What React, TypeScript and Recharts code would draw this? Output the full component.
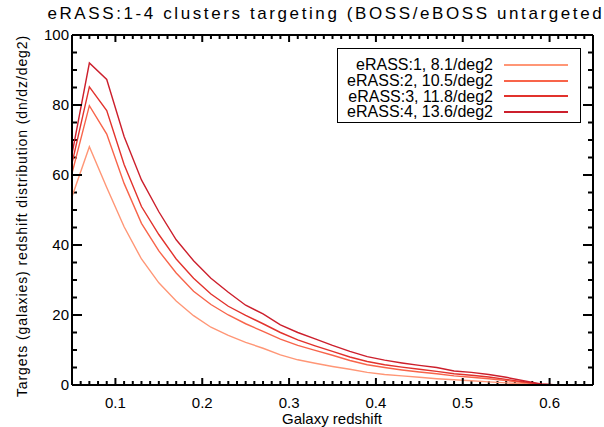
import React from 'react';
import { LineChart, Line, XAxis, YAxis, ReferenceLine } from 'recharts';

// galaxy redshift bins
const REDSHIFT = [
  0.05, 0.07, 0.09, 0.11, 0.13, 0.15, 0.17, 0.19, 0.21, 0.23, 0.25, 0.27, 0.29, 0.31, 0.33, 0.35,
  0.37, 0.39, 0.41, 0.43, 0.45, 0.47, 0.49, 0.51, 0.53, 0.55, 0.57, 0.59, 0.61, 0.63, 0.65,
];

// dn/dz/deg2 for each eRASS depth
const ERASS1 = [
  53.8, 68.1, 56.4, 45.2, 36.0, 29.2, 24.0, 19.8, 16.5, 14.2, 12.2, 10.5, 8.6, 7.2, 6.2, 5.3,
  4.5, 3.6, 3.0, 2.6, 2.2, 1.8, 1.5, 1.2, 0.9, 0.6, 0.35, 0.1, 0, 0, 0,
];
const ERASS2 = [
  60.5, 79.8, 71.7, 57.6, 46.2, 38.3, 32.0, 26.8, 23.0, 20.0, 17.5, 15.3, 13.1, 11.3, 9.9, 8.5,
  7.0, 5.8, 5.0, 4.3, 3.7, 3.2, 2.6, 2.2, 1.8, 1.3, 0.7, 0.15, 0, 0, 0,
];
const ERASS3 = [
  63.3, 85.2, 78.4, 63.0, 51.0, 43.0, 36.0, 30.5, 26.0, 22.5, 19.9, 17.5, 15.0, 12.9, 11.2, 9.6,
  8.0, 6.7, 5.8, 5.1, 4.5, 3.9, 3.2, 2.8, 2.3, 1.6, 0.9, 0.2, 0, 0, 0,
];
const ERASS4 = [
  66.0, 92.0, 87.3, 71.0, 58.6, 49.5, 41.5, 35.5, 30.5, 26.5, 22.8, 20.3, 17.2, 15.0, 13.2, 11.3,
  9.6, 8.1, 7.1, 6.3, 5.6, 5.0, 4.0, 3.6, 3.0, 2.2, 1.2, 0.3, 0, 0, 0,
];

const SERIES_NAMES = ['eRASS:1, 8.1/deg2', 'eRASS:2, 10.5/deg2', 'eRASS:3, 11.8/deg2', 'eRASS:4, 13.6/deg2'];
const SERIES_KEYS = ['e1', 'e2', 'e3', 'e4'];
const SERIES_COLORS = ['#ff9676', '#f8644a', '#e2322c', '#cc1f2c'];

const X_MINOR = [
  0.06, 0.07, 0.08, 0.09, 0.11, 0.12, 0.13, 0.14, 0.15, 0.16, 0.17, 0.18, 0.19,
  0.21, 0.22, 0.23, 0.24, 0.25, 0.26, 0.27, 0.28, 0.29, 0.31, 0.32, 0.33, 0.34, 0.35, 0.36,
  0.37, 0.38, 0.39, 0.41, 0.42, 0.43, 0.44, 0.45, 0.46, 0.47, 0.48, 0.49, 0.51, 0.52,
  0.53, 0.54, 0.55, 0.56, 0.57, 0.58, 0.59, 0.61, 0.62, 0.63, 0.64,
];
const X_MAJOR = [0.1, 0.2, 0.3, 0.4, 0.5, 0.6];
const Y_MINOR = [5, 10, 15, 25, 30, 35, 45, 50, 55, 65, 70, 75, 85, 90, 95];
const Y_MAJOR = [0, 20, 40, 60, 80, 100];
const X_DOMAIN = [0.05, 0.65];
const Y_DOMAIN = [0, 100];

const data = REDSHIFT.map((z, i) => ({
  z,
  e1: ERASS1[i],
  e2: ERASS2[i],
  e3: ERASS3[i],
  e4: ERASS4[i],
}));

const W = 604;
const H = 427;
const FONT = '"Liberation Sans", Arial, Helvetica, sans-serif';
const AXIS_LINE = { stroke: '#000', strokeWidth: 2 };
const TICK_TEXT = { fontSize: 15, fontFamily: FONT, fill: '#000' };

// plot box is 521 x 350 px; tick lengths in data units
const PX_X = (X_DOMAIN[1] - X_DOMAIN[0]) / 521;
const PX_Y = (Y_DOMAIN[1] - Y_DOMAIN[0]) / 350;

// inward tick marks that the axes don't draw (minor ticks and the mirrored top/right side)
const tickSegments: { x1: number; y1: number; x2: number; y2: number }[] = [];
X_MINOR.forEach((x) => {
  tickSegments.push({ x1: x, y1: Y_DOMAIN[0], x2: x, y2: Y_DOMAIN[0] + 4 * PX_Y });
  tickSegments.push({ x1: x, y1: Y_DOMAIN[1], x2: x, y2: Y_DOMAIN[1] - 4 * PX_Y });
});
X_MAJOR.forEach((x) => {
  tickSegments.push({ x1: x, y1: Y_DOMAIN[1], x2: x, y2: Y_DOMAIN[1] - 7 * PX_Y });
});
Y_MINOR.forEach((y) => {
  tickSegments.push({ x1: X_DOMAIN[0], y1: y, x2: X_DOMAIN[0] + 5 * PX_X, y2: y });
  tickSegments.push({ x1: X_DOMAIN[1], y1: y, x2: X_DOMAIN[1] - 5 * PX_X, y2: y });
});
Y_MAJOR.forEach((y) => {
  tickSegments.push({ x1: X_DOMAIN[1], y1: y, x2: X_DOMAIN[1] - 10 * PX_X, y2: y });
});

export default function App() {
  return (
    <div style={{ position: 'absolute', left: 0, top: 0, width: W, height: H, background: '#fff' }}>
      <LineChart width={W} height={H} data={data} margin={{ top: 35, right: 11, bottom: 0, left: 0 }}>
        <XAxis
          dataKey="z"
          type="number"
          domain={X_DOMAIN}
          ticks={X_MAJOR}
          interval={0}
          tickSize={-7}
          tickMargin={19}
          tickLine={AXIS_LINE}
          axisLine={AXIS_LINE}
          tick={TICK_TEXT}
          tickFormatter={(v: number) => v.toFixed(1)}
          height={42}
          allowDataOverflow
        />
        <YAxis
          type="number"
          domain={Y_DOMAIN}
          ticks={Y_MAJOR}
          interval={0}
          tickSize={-10}
          tickMargin={13}
          tickLine={AXIS_LINE}
          axisLine={AXIS_LINE}
          tick={TICK_TEXT}
          width={72}
          allowDataOverflow
        />
        <ReferenceLine y={Y_DOMAIN[1]} stroke="#000" strokeWidth={2} />
        <ReferenceLine x={X_DOMAIN[1]} stroke="#000" strokeWidth={2} />
        {tickSegments.map((s, i) => (
          <ReferenceLine
            key={i}
            segment={[
              { x: s.x1, y: s.y1 },
              { x: s.x2, y: s.y2 },
            ]}
            stroke="#000"
            strokeWidth={2}
          />
        ))}
        {SERIES_KEYS.map((k, i) => (
          <Line
            key={k}
            dataKey={k}
            name={SERIES_NAMES[i]}
            stroke={SERIES_COLORS[i]}
            strokeWidth={1.4}
            dot={false}
            type="linear"
            isAnimationActive={false}
          />
        ))}
      </LineChart>

      {/* title and axis titles */}
      <div
        style={{
          position: 'absolute',
          left: 30,
          top: 4,
          width: 600,
          display: 'flex',
          justifyContent: 'center',
          fontFamily: FONT,
          fontSize: 17,
          letterSpacing: 2.6,
          whiteSpace: 'nowrap',
        }}
      >
        <span>eRASS:1-4 clusters targeting (BOSS/eBOSS untargeted)</span>
      </div>
      <div
        style={{
          position: 'absolute',
          left: 22,
          top: 216,
          transform: 'translate(-50%, -50%) rotate(-90deg)',
          fontFamily: FONT,
          fontSize: 14,
          letterSpacing: 0.9,
          whiteSpace: 'nowrap',
        }}
      >
        Targets (galaxies) redshift distribution (dn/dz/deg2)
      </div>
      <div
        style={{
          position: 'absolute',
          left: 332,
          top: 418,
          transform: 'translate(-50%, -50%)',
          fontFamily: FONT,
          fontSize: 15,
          whiteSpace: 'nowrap',
        }}
      >
        Galaxy redshift
      </div>

      {/* legend */}
      <div
        style={{
          position: 'absolute',
          left: 337,
          top: 48,
          width: 244,
          height: 75,
          border: '1.5px solid #000',
          background: '#fff',
          padding: '8px 0 0 0',
          boxSizing: 'border-box',
          fontFamily: FONT,
          fontSize: 16,
          color: '#000',
        }}
      >
        {SERIES_NAMES.map((name, i) => (
          <div key={name} style={{ display: 'flex', alignItems: 'center', height: 15.8 }}>
            <span style={{ width: 155, textAlign: 'right', whiteSpace: 'nowrap' }}>{name}</span>
            <span
              style={{
                display: 'inline-block',
                marginLeft: 11,
                width: 64,
                height: 0,
                borderTop: `2px solid ${SERIES_COLORS[i]}`,
              }}
            />
          </div>
        ))}
      </div>
    </div>
  );
}
